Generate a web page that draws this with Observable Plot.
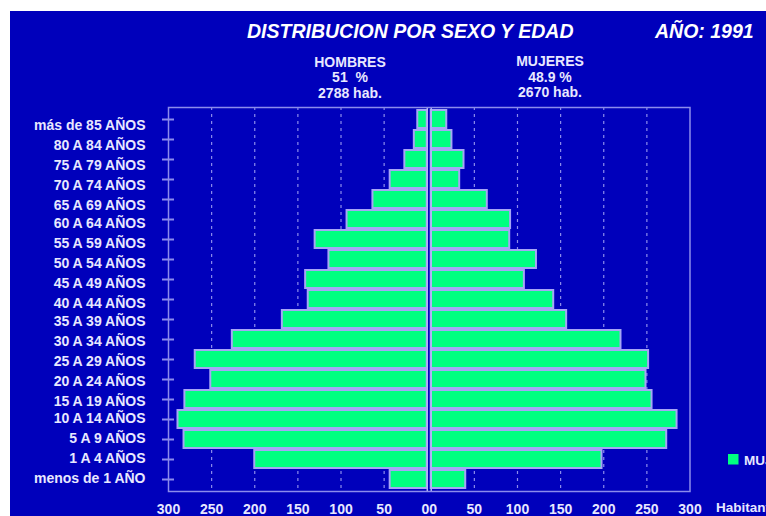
<!DOCTYPE html>
<html>
<head>
<meta charset="utf-8">
<script src="https://cdn.jsdelivr.net/npm/d3@7"></script>
<script src="https://cdn.jsdelivr.net/npm/@observablehq/plot@0.6"></script>
<style>
  html, body { margin: 0; padding: 0; background: #ffffff; }
  #wrap { position: relative; width: 766px; height: 516px; overflow: hidden; font-family: "Liberation Sans", Arial, sans-serif; }
  #bg { position: absolute; left: 10px; top: 11px; right: 0; bottom: 0; background: #0000bb; }
  #overlay { position: absolute; left: 0; top: 0; }
  #chart { position: absolute; left: 0; top: 100px; }
  #overlay text { white-space: pre; }
</style>
</head>
<body>
<div id="wrap">
  <div id="bg"></div>
  <svg id="overlay" width="766" height="516"></svg>
  <div id="chart"></div>
</div>
<script>
// ---- data ----
const ages = [
  "más de 85 AÑOS", "80 A 84 AÑOS", "75 A 79 AÑOS", "70 A 74 AÑOS", "65 A 69 AÑOS",
  "60 A 64 AÑOS", "55 A 59 AÑOS", "50 A 54 AÑOS", "45 A 49 AÑOS", "40 A 44 AÑOS",
  "35 A 39 AÑOS", "30 A 34 AÑOS", "25 A 29 AÑOS", "20 A 24 AÑOS", "15 A 19 AÑOS",
  "10 A 14 AÑOS", "5 A 9 AÑOS", "1 A 4 AÑOS", "menos de 1 AÑO"
];
const hombres = [11, 15, 26, 43, 63, 93, 130, 114, 141, 138, 168, 226, 269, 251, 281, 289, 282, 200, 43];
const mujeres = [18, 24, 38, 33, 65, 92, 91, 122, 108, 142, 157, 220, 252, 249, 256, 285, 273, 198, 40];
const xTicks = [50, 100, 150, 200, 250, 300];
const gridTicks = [50, 100, 150, 200, 250];

const titleText = "DISTRIBUCION POR SEXO Y EDAD";
const yearText = "AÑO: 1991";
const hombresHeader = ["HOMBRES", "51  %", "2788 hab."];
const mujeresHeader = ["MUJERES", "48.9 %", "2670 hab."];
const legendLabel = "MUJERES";
const unitLabel = "Habitantes";

// ---- styling ----
const G = 2.3; // half gap between the two halves, in data units
const GREEN = "#00ff80", LAV = "#8c8cec", BARSTROKE = "#a6a6f6", TXT = "#e8e8ff";
const FONT = "Liberation Sans, Arial, sans-serif";

const rows = ages.map((age, i) => ({age, hombres: hombres[i], mujeres: mujeres[i]}));

const labelGroups = [[0, 5, 6.5], [5, 10, 4], [10, 15, 1.7], [15, 19, -0.7]];

const chart = Plot.plot({
  width: 766,
  height: 416,
  marginLeft: 168,
  marginRight: 76.5,
  marginTop: 7,
  marginBottom: 25,
  style: {background: "transparent", color: TXT, fontFamily: FONT, overflow: "visible"},
  x: {domain: [-(300 + G), 300 + G], axis: null},
  y: {domain: ages, padding: 0.08, axis: null},
  marks: [
    Plot.ruleX(gridTicks.flatMap(t => [-(t + G), t + G]), {stroke: LAV, strokeWidth: 1.2, strokeDasharray: "3,4"}),
    Plot.barX(rows, {y: "age", x1: d => -(d.hombres + G), x2: () => -G, fill: GREEN, stroke: BARSTROKE, strokeWidth: 2}),
    Plot.barX(rows, {y: "age", x1: () => G, x2: d => d.mujeres + G, fill: GREEN, stroke: BARSTROKE, strokeWidth: 2}),
    Plot.ruleX([-G, G], {stroke: "#b4b4f8", strokeWidth: 1.5}),
    Plot.frame({stroke: LAV, strokeWidth: 1.5}),
    Plot.axisY({tickSize: 12, dx: 6, tickFormat: () => "", stroke: LAV, strokeWidth: 2, label: null}),
    ...labelGroups.map(([a, b, dy]) =>
      Plot.axisY(ages.slice(a, b), {tickSize: 0, tickPadding: 23, dy, fontSize: 14, fontWeight: "bold", fill: TXT, label: null})
    ),
    Plot.axisX(xTicks.flatMap(t => [-(t + G), t + G]), {
      tickSize: 0, tickPadding: 12.5, tickFormat: v => String(Math.round(Math.abs(v) - G)),
      fontSize: 14, fontWeight: "bold", fill: TXT, label: null
    }),
    Plot.axisX([-G], {tickSize: 0, tickPadding: 12.5, dx: -2, tickFormat: () => "0", fontSize: 14, fontWeight: "bold", fill: TXT, label: null}),
    Plot.axisX([G], {tickSize: 0, tickPadding: 12.5, dx: 2, tickFormat: () => "0", fontSize: 14, fontWeight: "bold", fill: TXT, label: null})
  ]
});
document.getElementById("chart").appendChild(chart);

// ---- titles, header and legend ----
const ov = d3.select("#overlay").attr("font-family", FONT);
ov.append("text").attr("x", 247).attr("y", 37.5)
  .attr("font-size", 19.5).attr("font-weight", "bold").attr("font-style", "italic")
  .attr("fill", "#ffffff").text(titleText);
ov.append("text").attr("x", 655).attr("y", 37.5)
  .attr("font-size", 19.5).attr("font-weight", "bold").attr("font-style", "italic")
  .attr("fill", "#ffffff").text(yearText);

const hY = [66.7, 82.3, 98];
hombresHeader.forEach((t, i) => {
  ov.append("text").attr("x", 350).attr("y", hY[i]).attr("text-anchor", "middle")
    .attr("font-size", 14).attr("font-weight", "bold").attr("fill", TXT).text(t);
});
const mY = [66, 81.7, 97.4];
mujeresHeader.forEach((t, i) => {
  ov.append("text").attr("x", 550).attr("y", mY[i]).attr("text-anchor", "middle")
    .attr("font-size", 14).attr("font-weight", "bold").attr("fill", TXT).text(t);
});

ov.append("rect").attr("x", 728).attr("y", 454).attr("width", 10.5).attr("height", 10.5).attr("fill", GREEN);
ov.append("text").attr("x", 744).attr("y", 464.5).attr("font-size", 13.5).attr("font-weight", "bold")
  .attr("fill", TXT).text(legendLabel);
ov.append("text").attr("x", 716).attr("y", 512).attr("font-size", 13.5).attr("font-weight", "bold")
  .attr("fill", TXT).text(unitLabel);
</script>
</body>
</html>
